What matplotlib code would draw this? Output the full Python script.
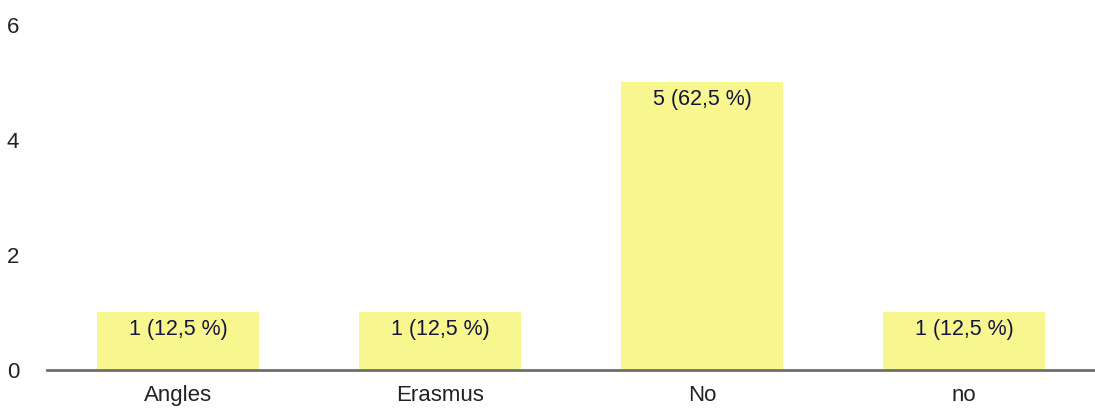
import matplotlib.pyplot as plt

categories = ["Angles", "Erasmus", "No", "no"]
counts = [1, 1, 5, 1]
percents = ["12,5", "12,5", "62,5", "12,5"]

plt.rcParams['font.family'] = ['Liberation Sans', 'DejaVu Sans']

fig = plt.figure(figsize=(10.95, 4.11), dpi=100)
ax = fig.add_axes([0.043, 0.1, 0.957, 0.84])

x = list(range(len(categories)))
bars = ax.bar(x, counts, width=0.62, color='#f8f78f', zorder=2)

# Value labels sit just inside the top of each bar
for xi, c, p in zip(x, counts, percents):
    ax.annotate(f"{c} ({p} %)", (xi, c), xytext=(0, -5), textcoords='offset points',
                ha='center', va='top', fontsize=15.5, color='#15153a')

ax.set_xlim(-0.5, 3.5)
ax.set_ylim(0, 6)
ax.set_yticks([0, 2, 4, 6])
ax.set_xticks(x)
ax.set_xticklabels(categories)

for side in ['top', 'right', 'left']:
    ax.spines[side].set_visible(False)
ax.spines['bottom'].set_color('#6e6e6e')
ax.spines['bottom'].set_linewidth(2)
ax.spines['bottom'].set_zorder(3)

ax.tick_params(axis='both', length=0, labelsize=16, colors='#222222')
ax.tick_params(axis='x', pad=11)
ax.tick_params(axis='y', pad=20)

fig.savefig('out.png', dpi=100)
